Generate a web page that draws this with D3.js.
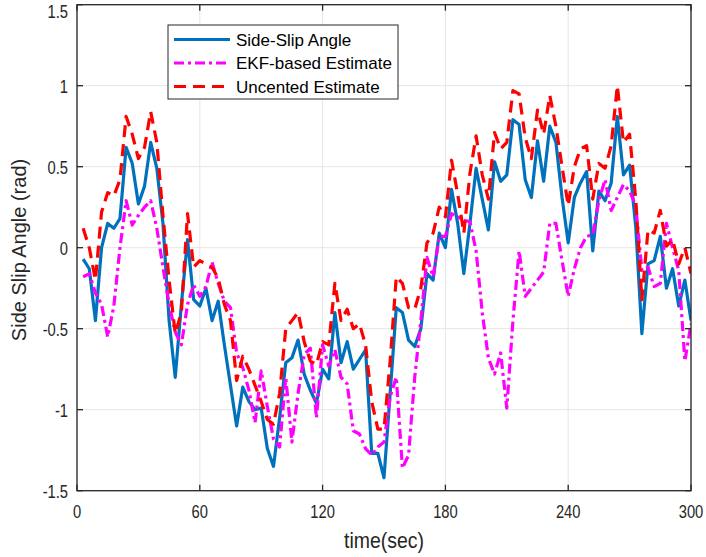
<!DOCTYPE html>
<html><head><meta charset="utf-8">
<script src="https://cdn.jsdelivr.net/npm/d3@7"></script>
<style>body{margin:0;background:#fff}svg{display:block}text{font-family:"Liberation Sans",Arial,Helvetica,sans-serif;fill:#262626}</style>
</head><body>
<svg id="c" width="706" height="557"></svg>
<script>
const time = [3,6,9,12,15,18,21,24,27,30,33,36,39,42,45,48,51,54,57,60,
 63,66,69,72,75,78,81,84,87,90,93,96,99,102,105,108,111,114,117,120,
 123,126,129,132,135,138,141,144,147,150,153,156,159,162,165,168,171,174,177,180,
 183,186,189,192,195,198,201,204,207,210,213,216,219,222,225,228,231,234,237,240,
 243,246,249,252,255,258,261,264,267,270,273,276,279,282,285,288,291,294,297,300];
const sideSlip = [-0.07,-0.13,-0.45,0.00,0.15,0.12,0.18,0.62,0.52,0.27,
 0.38,0.65,0.49,0.15,-0.45,-0.80,-0.35,0.05,-0.32,-0.36,
 -0.25,-0.45,-0.33,-0.60,-0.85,-1.10,-0.86,-0.95,-1.00,-0.99,
 -1.24,-1.35,-1.05,-0.71,-0.68,-0.57,-0.78,-0.88,-0.96,-0.75,
 -0.81,-0.40,-0.71,-0.58,-0.75,-0.69,-0.63,-1.27,-1.27,-1.42,
 -0.90,-0.37,-0.40,-0.57,-0.61,-0.50,-0.16,-0.20,0.09,0.00,
 0.36,0.15,-0.16,0.15,0.49,0.30,0.11,0.53,0.41,0.45,
 0.79,0.76,0.42,0.31,0.66,0.41,0.75,0.65,0.31,0.03,
 0.31,0.40,0.47,-0.02,0.35,0.29,0.40,0.81,0.45,0.51,
 0.13,-0.53,-0.10,-0.08,0.07,-0.25,-0.13,-0.36,-0.20,-0.45];
const ekfEstimate = [-0.18,-0.16,-0.28,-0.35,-0.55,-0.36,0.00,0.29,0.14,0.20,
 0.25,0.29,0.12,-0.12,-0.35,-0.52,-0.60,-0.35,-0.23,-0.30,
 -0.24,-0.09,-0.22,-0.33,-0.37,-0.65,-0.74,-0.88,-1.08,-0.76,
 -0.98,-1.18,-1.23,-0.80,-1.20,-0.90,-0.66,-0.62,-1.05,-0.60,
 -0.73,-0.63,-0.80,-0.84,-1.13,-1.15,-1.24,-1.28,-1.23,-1.20,
 -0.92,-0.80,-1.36,-1.28,-0.80,-0.45,-0.06,-0.18,0.07,0.07,
 0.21,0.19,0.17,0.16,-0.02,-0.40,-0.68,-0.78,-0.65,-0.99,
 -0.45,-0.02,-0.30,-0.25,-0.20,-0.15,0.15,0.15,-0.08,-0.30,
 -0.13,0.00,0.07,0.08,0.29,0.42,0.23,0.31,0.39,0.35,
 0.26,-0.14,-0.12,-0.24,-0.22,0.15,0.00,-0.14,-0.70,-0.47];
const ukfEstimate = [0.12,0.00,-0.20,0.22,0.34,0.32,0.42,0.81,0.70,0.55,
 0.62,0.84,0.65,0.20,-0.20,-0.53,-0.40,0.21,-0.12,-0.08,
 -0.10,-0.12,-0.19,-0.35,-0.45,-0.82,-0.67,-0.75,-0.85,-0.95,
 -1.06,-1.09,-0.90,-0.50,-0.45,-0.40,-0.58,-0.70,-0.72,-0.58,
 -0.60,-0.22,-0.45,-0.38,-0.50,-0.47,-0.60,-0.95,-1.12,-1.12,
 -0.70,-0.18,-0.22,-0.37,-0.38,-0.25,0.03,0.09,0.25,0.19,
 0.54,0.33,0.09,0.46,0.69,0.45,0.30,0.71,0.61,0.65,
 0.97,0.95,0.68,0.55,0.85,0.70,0.94,0.75,0.50,0.26,
 0.50,0.61,0.63,0.30,0.52,0.49,0.63,1.00,0.65,0.70,
 0.30,-0.32,0.11,0.09,0.23,0.01,0.05,-0.10,0.00,-0.16];
const xTicks = [0,60,120,180,240,300];
const yTicks = [-1.5,-1,-0.5,0,0.5,1,1.5];
const yTickLabels = ["-1.5","-1","-0.5","0","0.5","1","1.5"];
const seriesNames = ["Side-Slip Angle","EKF-based Estimate","Uncented Estimate"];
const seriesColors = ["#0072BD","#FF00FF","#FF0000"];

const L=77, R=691, T=4.7, B=490.7;
const svg = d3.select("#c");
const x = d3.scaleLinear().domain([0,300]).range([L,R]);
const y = d3.scaleLinear().domain([-1.5,1.5]).range([B,T]);

const g = svg.append("g");
g.selectAll(".gx").data(xTicks).join("line").attr("x1",d=>x(d)).attr("x2",d=>x(d)).attr("y1",T).attr("y2",B)
  .attr("stroke","#e6e6e6").attr("stroke-width",1);
g.selectAll(".gy").data(yTicks).join("line").attr("y1",d=>y(d)).attr("y2",d=>y(d)).attr("x1",L).attr("x2",R)
  .attr("stroke","#e6e6e6").attr("stroke-width",1);

const series = [
  {vals: sideSlip, color: seriesColors[0], w: 3.2, dash: null},
  {vals: ekfEstimate, color: seriesColors[1], w: 3.2, dash: "10,4,3,4"},
  {vals: ukfEstimate, color: seriesColors[2], w: 3.2, dash: "12,7"}
];
const line = d3.line().x((d,i)=>x(time[i])).y(d=>y(d));
svg.append("clipPath").attr("id","clp").append("rect").attr("x",L).attr("y",T).attr("width",R-L).attr("height",B-T);
const lg = svg.append("g").attr("clip-path","url(#clp)");
series.forEach(s=>{
  lg.append("path").attr("d",line(s.vals)).attr("fill","none").attr("stroke",s.color)
    .attr("stroke-width",s.w).attr("stroke-linejoin","round").attr("stroke-dasharray",s.dash);
});

svg.append("rect").attr("x",L).attr("y",T).attr("width",R-L).attr("height",B-T).attr("fill","none")
  .attr("stroke","#262626").attr("stroke-width",1.3);
const tk = 6;
xTicks.forEach(v=>{
  svg.append("line").attr("x1",x(v)).attr("x2",x(v)).attr("y1",B).attr("y2",B-tk).attr("stroke","#262626").attr("stroke-width",1.3);
  svg.append("line").attr("x1",x(v)).attr("x2",x(v)).attr("y1",T).attr("y2",T+tk).attr("stroke","#262626").attr("stroke-width",1.3);
});
yTicks.forEach(v=>{
  svg.append("line").attr("y1",y(v)).attr("y2",y(v)).attr("x1",L).attr("x2",L+tk).attr("stroke","#262626").attr("stroke-width",1.3);
  svg.append("line").attr("y1",y(v)).attr("y2",y(v)).attr("x1",R).attr("x2",R-tk).attr("stroke","#262626").attr("stroke-width",1.3);
});
svg.selectAll(".xl").data(xTicks).join("text")
  .attr("transform",d=>`translate(${x(d)},518) scale(0.95,1.22)`).attr("text-anchor","middle")
  .attr("font-size",15.5).text(d=>d);
svg.selectAll(".yl").data(yTicks).join("text")
  .attr("transform",d=>`translate(${L-9},${Math.max(y(d),10.5)+7}) scale(0.95,1.22)`).attr("text-anchor","end")
  .attr("font-size",15.5).text((d,i)=>yTickLabels[i]);
svg.append("text").attr("transform","translate(384,548) scale(0.95,1.12)").attr("text-anchor","middle").attr("font-size",20.5).text("time(sec)");
svg.append("text").attr("transform","translate(26,250) rotate(-90)").attr("text-anchor","middle").attr("font-size",20).text("Side Slip Angle (rad)");

const leg = svg.append("g");
leg.append("rect").attr("x",168).attr("y",25).attr("width",230).attr("height",74).attr("fill","#fff").attr("stroke","#262626").attr("stroke-width",1);
const ly = [39.5,63,86.5];
series.forEach((s,i)=>{
  leg.append("line").attr("x1",174).attr("x2",230).attr("y1",ly[i]).attr("y2",ly[i]).attr("stroke",s.color)
    .attr("stroke-width",3.2).attr("stroke-dasharray",s.dash);
  leg.append("text").attr("x",236).attr("y",ly[i]+6).attr("font-size",17).style("fill","#000").text(seriesNames[i]);
});
</script>
</body></html>
